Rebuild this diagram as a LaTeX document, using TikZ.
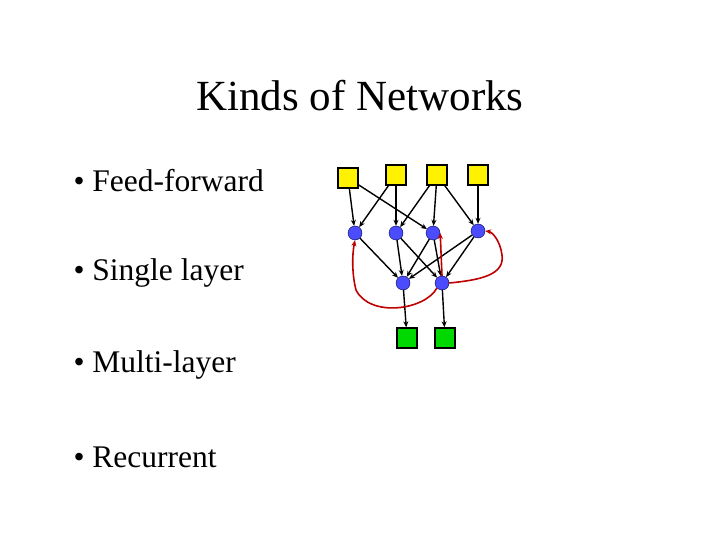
\documentclass[tikz,border=0pt]{standalone}
\usepackage{fontspec}
\setmainfont{Liberation Serif}
\usetikzlibrary{arrows.meta}
\begin{document}
\begin{tikzpicture}[x=1pt,y=-1pt,
  inp/.style={draw=black,fill=yellow,minimum size=20pt,inner sep=0pt,line width=1.3pt},
  outp/.style={draw=black,fill=green!85!black,minimum size=20pt,inner sep=0pt,line width=1.3pt},
  hid/.style={circle,draw=black!70!blue,fill=blue!70!white,minimum size=14pt,inner sep=0pt},
  ed/.style={-{Stealth[length=6pt,width=5pt]},line width=1.4pt},
  rec/.style={-{Stealth[length=6pt,width=5pt]},line width=1.6pt,red!75!black},
  txt/.style={anchor=west,font=\fontsize{31.5}{33}\selectfont}]
\useasboundingbox (0,0) rectangle (720,540);
\node[font=\fontsize{43}{45}\selectfont] (title) at (360,96) {Kinds of Networks};
\node[txt] (t1) at (70,181) {\textbullet\ Feed-forward};
\node[txt] (t2) at (70,273) {\textbullet\ Single layer};
\node[txt] (t3) at (70,365) {\textbullet\ Multi-layer};
\node[txt] (t4) at (70,457) {\textbullet\ Recurrent};
% input layer
\node[inp] (y1) at (348,178) {};
\node[inp] (y2) at (396,175) {};
\node[inp] (y3) at (437,175) {};
\node[inp] (y4) at (478,175) {};
% first hidden layer
\node[hid] (b1) at (355,233) {};
\node[hid] (b2) at (396,233) {};
\node[hid] (b3) at (433,233) {};
\node[hid] (b4) at (478,231) {};
% second hidden layer
\node[hid] (m1) at (403,283) {};
\node[hid] (m2) at (442,283) {};
% output layer
\node[outp] (g1) at (407,338) {};
\node[outp] (g2) at (445,338) {};
\draw[ed] (y1) -- (b1);
\draw[ed] (y1) -- (b3);
\draw[ed] (y2) -- (b1);
\draw[ed] (y2) -- (b2);
\draw[ed] (y3) -- (b2);
\draw[ed] (y3) -- (b3);
\draw[ed] (y3) -- (b4);
\draw[ed] (y4) -- (b4);
\draw[ed] (b1) -- (m1);
\draw[ed] (b2) -- (m1);
\draw[ed] (b2) -- (m2);
\draw[ed] (b3) -- (m1);
\draw[ed] (b3) -- (m2);
\draw[ed] (b4) -- (m1);
\draw[ed] (b4) -- (m2);
\draw[ed] (m1) -- (g1);
\draw[ed] (m2) -- (g2);
% recurrent links
\draw[rec] (m2.south west) .. controls (425,310) and (370,318) .. (356,290) .. controls (352,275) and (352,255) .. (b1.south);
\draw[rec] (m2.north) -- (b3.east);
\draw[rec] (m2.east) .. controls (480,280) and (505,275) .. (502,255) .. controls (500,240) and (492,232) .. (b4.east);
\end{tikzpicture}
\end{document}
